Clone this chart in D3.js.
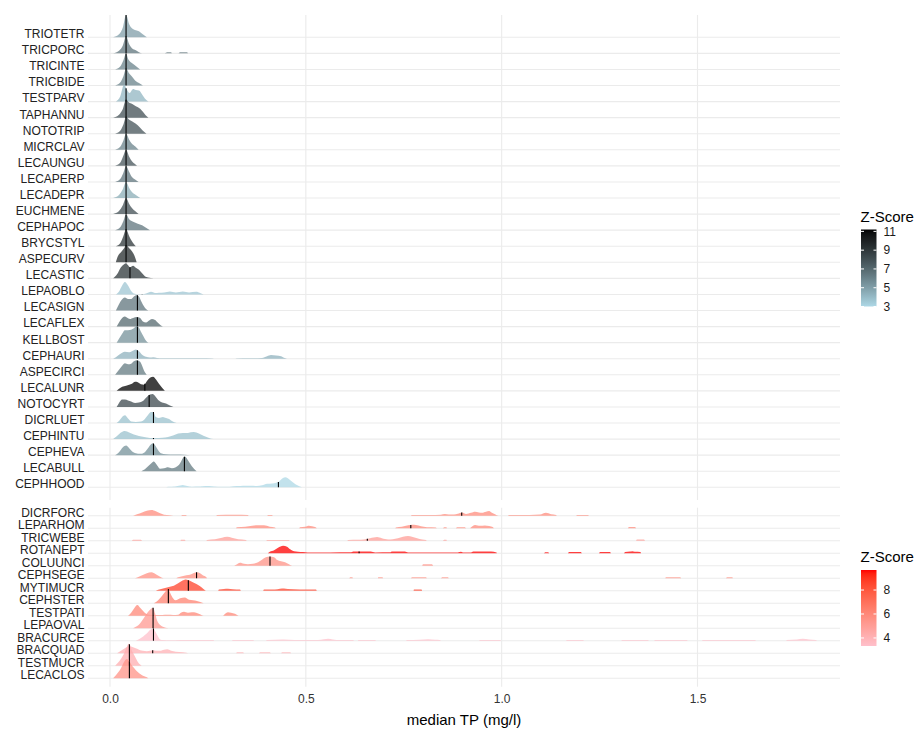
<!DOCTYPE html>
<html>
<head>
<meta charset="utf-8">
<script src="https://cdn.jsdelivr.net/npm/d3@7"></script>
<style>
  body { margin: 0; background: #fff; }
  text { font-family: "Liberation Sans", Arial, sans-serif; }
</style>
</head>
<body>
<svg id="chart" width="917" height="729"></svg>
<script>
// ---------- data ----------
const xTicks = [0, 0.5, 1.0, 1.5];
const topZBreaks = [3, 5, 7, 9, 11];
const bottomZBreaks = [4, 6, 8];

// upper group of taxa (top row first)
const topSpecies = ["TRIOTETR","TRICPORC","TRICINTE","TRICBIDE","TESTPARV","TAPHANNU","NOTOTRIP","MICRCLAV",
  "LECAUNGU","LECAPERP","LECADEPR","EUCHMENE","CEPHAPOC","BRYCSTYL","ASPECURV","LECASTIC","LEPAOBLO",
  "LECASIGN","LECAFLEX","KELLBOST","CEPHAURI","ASPECIRCI","LECALUNR","NOTOCYRT","DICRLUET","CEPHINTU",
  "CEPHEVA","LECABULL","CEPHHOOD"];
const topZ = [5.0,6.5,6.0,6.0,4.2,8.0,7.8,6.0,7.8,6.5,4.5,8.0,6.5,9.0,9.5,9.0,3.6,6.5,7.0,5.5,4.3,6.3,11.2,8.2,3.8,3.8,5.5,6.3,3.0];
const topMedian = [0.041,0.041,0.041,0.041,0.041,0.041,0.041,0.041,0.041,0.041,0.041,0.041,0.041,0.041,0.041,
  0.051,0.082,0.070,0.070,0.070,0.070,0.070,0.089,0.100,0.111,0.111,0.111,0.190,0.430];
// density profiles: [median TP, relative density]
const topDensity = [
  [[.008,0],[.023,3],[.033,10],[.041,22.3],[.049,13],[.056,9],[.066,7],[.074,6],[.082,3.5],[.094,0]],
  [[.008,0],[.023,2.5],[.033,8],[.041,17],[.049,9],[.056,5],[.066,3],[.082,0],[.140,0],[.146,1],[.156,1],[.158,0],[.174,0],[.179,1.2],[.197,1.2],[.199,0]],
  [[.013,0],[.026,3],[.034,9],[.041,16],[.047,10],[.054,7],[.061,5],[.069,2.5],[.077,0]],
  [[.013,0],[.026,3],[.034,9],[.041,17],[.049,12],[.056,9],[.064,5],[.074,2.5],[.084,0]],
  [[.015,0],[.026,5],[.036,17],[.043,12],[.050,8.5],[.059,12.5],[.066,11.5],[.074,11],[.082,7],[.089,3],[.098,0]],
  [[.008,0],[.023,3],[.033,9],[.041,18],[.049,15],[.056,14],[.066,11.5],[.077,9],[.084,6],[.091,2.5],[.098,0]],
  [[.013,0],[.026,3],[.034,9],[.041,17],[.049,14],[.056,12.5],[.066,10],[.077,6],[.084,3],[.093,0]],
  [[.013,0],[.026,3],[.034,9],[.041,16],[.049,10],[.056,6],[.064,3.5],[.073,0]],
  [[.013,0],[.026,3],[.034,10],[.041,16],[.049,9],[.056,4.5],[.063,2],[.069,0]],
  [[.013,0],[.026,3],[.034,9],[.041,16],[.049,10],[.056,5],[.064,2.5],[.073,0]],
  [[.008,0],[.023,3],[.033,9],[.041,16],[.049,10],[.056,6],[.066,3],[.077,0]],
  [[.008,0],[.023,3],[.033,9],[.041,16],[.049,10],[.056,6],[.064,3],[.073,0]],
  [[.013,0],[.026,3],[.034,9],[.041,16],[.049,11],[.059,8.5],[.071,6.5],[.082,5],[.092,2.5],[.102,0]],
  [[.015,0],[.026,3],[.034,10],[.041,17],[.049,10],[.056,5],[.066,0]],
  [[.015,0],[.020,6],[.028,10],[.036,14],[.041,17],[.049,14],[.056,11],[.063,6],[.068,0]],
  [[.008,0],[.018,4],[.028,11],[.036,14],[.041,15],[.046,13],[.051,11],[.059,12.5],[.066,10.5],[.074,8.5],[.082,5],[.089,2],[.097,0.8],[.112,0]],
  [[.015,0],[.023,3],[.031,9],[.038,12.5],[.046,9],[.054,3.5],[.061,1],[.071,0.3],[.082,0.3],[.092,1],[.105,2.7],[.115,1.5],[.125,1.7],[.138,2],[.153,3],[.168,2],[.186,3],[.202,2],[.220,2.7],[.230,1.5],[.239,0]],
  [[.015,0],[.020,4],[.026,8.5],[.033,12],[.038,13],[.046,11.5],[.054,11.5],[.061,14],[.069,15.5],[.074,14],[.080,9],[.087,4],[.092,1.5],[.098,0]],
  [[.017,0],[.023,4],[.031,8.5],[.037,10],[.043,9],[.051,7.5],[.059,8.5],[.069,9.5],[.077,8.5],[.084,5],[.092,4],[.100,6],[.107,7.5],[.115,6.5],[.123,3.5],[.130,1],[.135,0]],
  [[.017,0],[.023,4],[.031,9],[.038,12.5],[.046,12.5],[.054,13],[.061,14.5],[.068,16.3],[.074,15],[.079,11],[.086,6],[.092,2],[.098,0]],
  [[.008,0],[.015,1.5],[.023,4],[.031,6],[.038,7],[.049,6.5],[.056,7.5],[.066,9.3],[.074,7.5],[.082,4],[.092,2],[.102,1.2],[.110,1.5],[.120,0.8],[.135,0.5],[.179,0.4],[.230,0.4],[.263,0.3],[.266,0],[.319,0],[.322,0.3],[.357,0.4],[.388,0.8],[.401,2.5],[.411,3.7],[.424,3.2],[.437,2.5],[.444,1],[.452,0]],
  [[.013,0],[.019,3],[.026,6.5],[.033,10],[.038,11.5],[.046,10.5],[.054,11],[.061,13.5],[.069,14.5],[.077,13],[.082,9],[.087,4],[.094,0]],
  [[.017,0],[.023,2],[.031,4],[.041,5],[.049,6],[.056,7],[.064,9],[.071,8.5],[.079,6.5],[.087,6],[.094,9.5],[.102,13],[.110,14],[.117,11.5],[.125,7],[.133,3],[.140,0]],
  [[.017,0],[.023,4],[.031,7.5],[.038,7.5],[.046,6.5],[.054,5.5],[.064,4],[.074,4.5],[.084,6],[.094,10],[.102,12.5],[.109,13],[.115,11],[.123,7],[.133,4.5],[.143,3.5],[.153,1.5],[.162,0]],
  [[.017,0],[.023,2],[.031,6],[.038,7.7],[.046,4.5],[.054,1.5],[.066,1],[.079,1.5],[.089,4],[.097,8],[.105,11],[.111,11],[.117,6],[.125,5],[.135,6],[.143,5],[.151,4],[.158,2],[.170,0]],
  [[.008,0],[.018,3],[.028,6.5],[.038,8],[.049,6.5],[.061,4.5],[.074,3],[.087,2],[.102,1.2],[.117,1],[.133,1.3],[.148,2],[.161,3.5],[.174,5.5],[.186,6],[.199,6.2],[.214,7],[.227,5.5],[.240,3],[.253,1.2],[.264,0]],
  [[.013,0],[.023,3],[.033,8],[.041,9.7],[.049,7],[.056,4],[.066,2],[.077,1.3],[.087,2.5],[.097,7],[.105,11],[.110,12],[.115,10],[.123,5],[.130,2],[.143,1],[.166,0.7],[.191,0.4],[.204,0]],
  [[.080,0],[.089,2],[.100,6],[.107,8.5],[.112,9.7],[.120,6],[.128,2.5],[.138,3],[.148,4],[.158,3],[.168,4],[.179,8],[.186,13],[.191,14.7],[.199,11],[.209,5],[.221,0]],
  [[.144,0],[.148,0.5],[.166,0.8],[.179,1.8],[.186,2.3],[.197,1.2],[.209,0.6],[.230,0.7],[.243,1.2],[.253,1.3],[.266,0.8],[.286,0.5],[.306,0.6],[.324,1.2],[.340,1.6],[.357,1.5],[.375,1.3],[.388,2],[.401,3.5],[.414,3.8],[.424,4.5],[.431,5.5],[.439,8.5],[.447,10],[.454,9],[.462,6.5],[.470,4],[.477,2.2],[.490,0]]
];

// lower group of taxa (top row first)
const bottomSpecies = ["DICRFORC","LEPARHOM","TRICWEBE","ROTANEPT","COLUUNCI","CEPHSEGE","MYTIMUCR",
  "CEPHSTER","TESTPATI","LEPAOVAL","BRACURCE","BRACQUAD","TESTMUCR","LECACLOS"];
const bottomZ = [5.8,5.8,5.0,9.67,5.5,5.6,8.6,6.2,6.0,5.2,3.33,4.0,4.2,5.5];
const bottomMedian = [0.898,0.768,0.657,0.636,0.4085,0.221,0.200,0.149,0.111,0.110,0.111,0.109,0.0495,0.0495];
const bottomDensity = [
  [[.059,0],[.069,1.5],[.082,3.3],[.094,5],[.106,5.7],[.117,4.5],[.128,2.5],[.138,1],[.153,0.5],[.162,0],[.181,0],[.184,0.8],[.194,0.8],[.197,0],[.271,0],[.273,0.8],[.319,0.9],[.352,0.8],[.355,0],[.401,0],[.403,0.8],[.414,0.8],[.416,0],[.768,0],[.771,0.7],[.817,0.8],[.845,1],[.855,1.7],[.865,1.2],[.878,1.3],[.888,2],[.899,3.3],[.909,1.8],[.922,3],[.932,4],[.942,3.2],[.950,3],[.960,4],[.968,4.7],[.975,3],[.983,1.5],[.992,0],[1.016,0],[1.019,0.7],[1.072,0.7],[1.098,1.2],[1.113,3],[1.126,1.5],[1.139,0.7],[1.141,0],[1.190,0],[1.192,0.8],[1.220,0.8],[1.223,0]],
  [[.322,0],[.324,1],[.345,1.5],[.363,2.5],[.378,3],[.393,3],[.408,1.5],[.421,0.8],[.424,0],[.483,0],[.485,1],[.498,1.5],[.508,2.5],[.516,2],[.526,0.8],[.528,0],[.728,0],[.730,0.8],[.745,1.5],[.761,3],[.771,3.4],[.781,3.2],[.794,2],[.809,1],[.832,0.8],[.835,0],[.850,0],[.853,1],[.859,1],[.860,0],[.883,0],[.886,1],[.906,1],[.909,0],[.919,0],[.922,1],[.932,3.3],[.945,2.5],[.957,2.8],[.968,2.2],[.978,1],[.980,0],[1.322,0],[1.325,1.2],[1.340,1.2],[1.343,0]],
  [[.056,0],[.059,1],[.079,1],[.082,0],[.180,0],[.181,1],[.191,1],[.193,0],[.245,0],[.248,0.8],[.268,1.5],[.286,3],[.299,4],[.311,3],[.327,1.5],[.347,0.8],[.350,0],[.398,0],[.401,0.8],[.457,0.8],[.460,0],[.605,0],[.608,0.8],[.633,1],[.648,1.3],[.664,2.5],[.682,3.7],[.694,2.5],[.710,1.3],[.722,1.5],[.735,2.5],[.748,4],[.761,4.7],[.771,4],[.784,2.5],[.797,1.2],[.807,0.8],[.809,0],[.850,0],[.853,1],[.859,1],[.860,0],[1.343,0],[1.345,1.3],[1.363,1.3],[1.366,0]],
  [[.403,0],[.408,1.5],[.419,3],[.429,5.5],[.442,7.5],[.452,6.5],[.460,4],[.470,2],[.480,1.5],[.493,1.2],[.505,0.8],[.562,0.8],[.613,0.9],[.623,1.7],[.666,1.7],[.677,0.8],[.715,0.9],[.720,1.7],[.753,1.7],[.761,0.8],[.888,0.8],[.896,1.5],[.901,0.8],[.922,0.8],[.927,1.7],[.973,1.7],[.987,0.8],[.988,0],[1.108,0],[1.111,1],[1.119,1],[1.121,0],[1.169,0],[1.172,1.2],[1.202,1.2],[1.205,0],[1.248,0],[1.251,1.3],[1.277,1.3],[1.279,0],[1.312,0],[1.315,1.3],[1.328,1.6],[1.333,2],[1.340,1.4],[1.354,1.3],[1.356,0]],
  [[.317,0],[.322,1],[.332,3],[.342,2],[.352,1.5],[.365,2],[.378,3.5],[.388,6],[.398,8.5],[.408,9.2],[.419,8.5],[.426,6],[.437,4.5],[.447,3.5],[.457,1.5],[.465,0],[.797,0],[.799,1.5],[.822,1.5],[.825,0]],
  [[.064,0],[.071,1],[.082,3],[.094,5],[.106,5.9],[.117,4],[.128,1.5],[.137,0],[.168,0],[.174,1],[.184,2],[.195,3],[.204,3.5],[.214,5.3],[.222,6],[.230,5],[.237,3],[.246,1],[.248,0],[.611,0],[.613,1],[.619,1],[.620,0],[.684,0],[.685,1],[.696,1],[.697,0],[.768,0],[.771,1],[.807,1],[.809,0],[.845,0],[.848,1],[.863,1],[.865,0],[1.418,0],[1.419,1],[1.456,1],[1.458,0],[1.573,0],[1.575,1],[1.589,1],[1.590,0]],
  [[.117,0],[.123,1],[.133,2],[.143,3],[.153,4],[.163,5],[.174,7.5],[.184,10],[.194,11.3],[.204,10],[.214,8],[.225,5.7],[.235,3],[.246,0],[.276,0],[.278,1.3],[.291,1.8],[.301,2],[.314,1.5],[.332,1.2],[.334,0],[.391,0],[.393,1.2],[.421,1.3],[.434,2],[.444,2.3],[.454,1.6],[.485,1.2],[.526,1.2],[.528,0],[.775,0],[.776,1.3],[.795,1.3],[.797,0]],
  [[.112,0],[.123,3],[.130,6],[.138,10],[.144,13],[.149,14.3],[.154,10],[.161,5],[.167,3],[.174,4],[.179,5],[.191,5.7],[.202,3.5],[.212,3],[.222,2.3],[.239,0]],
  [[.046,0],[.054,3],[.061,7],[.070,10.7],[.077,8],[.084,5],[.092,2],[.100,1],[.115,0.8],[.133,0.8],[.148,1],[.161,0.8],[.174,1],[.181,3],[.189,4],[.199,3],[.209,3.5],[.220,3],[.230,1.5],[.239,0],[.288,0],[.294,2],[.301,3.5],[.309,3],[.319,2],[.328,0]],
  [[.059,0],[.066,1.5],[.073,3.3],[.079,6],[.086,10],[.092,13.5],[.098,16.7],[.105,19.5],[.110,20.5],[.115,15],[.120,8],[.128,3.3],[.135,1.5],[.149,0]],
  [[.066,0],[.074,1.5],[.082,3.5],[.089,5.7],[.097,8.5],[.102,10.7],[.111,12.3],[.116,9],[.123,4],[.128,1.3],[.135,0.7],[.153,0.5],[.179,0.8],[.204,0.8],[.220,0.6],[.264,0.6],[.266,0],[.311,0],[.314,0.7],[.365,0.7],[.368,0],[.398,0],[.401,0.7],[.442,1.3],[.472,0.7],[.531,0.8],[.546,1.5],[.557,2],[.569,1.3],[.587,0.7],[.620,0.7],[.623,0],[.633,0],[.634,0.7],[.677,0.7],[.679,0],[.756,0],[.758,0.7],[.791,1],[.812,1.5],[.830,1],[.842,0.7],[.845,0],[.942,0],[.945,0.7],[.996,0.7],[.998,0],[1.164,0],[1.167,0.7],[1.208,0.7],[1.210,0],[1.305,0],[1.307,0.8],[1.374,0.8],[1.376,0],[1.389,0],[1.391,0.8],[1.473,0.8],[1.476,0],[1.511,0],[1.514,0.7],[1.647,0.7],[1.649,0],[1.726,0],[1.728,0.8],[1.754,1.2],[1.769,2],[1.785,1.3],[1.802,0.8],[1.805,0]],
  [[.018,0],[.028,2.5],[.038,5],[.049,7],[.059,6],[.069,4.5],[.077,3],[.084,2.5],[.094,2],[.102,2.5],[.110,3],[.117,2.5],[.128,2.5],[.138,3.5],[.146,4],[.156,2.5],[.168,1.5],[.186,1],[.204,0],[.322,0],[.324,1],[.340,1],[.342,0],[.380,0],[.383,1],[.408,1],[.411,0],[.437,0],[.439,1],[.460,1],[.462,0]],
  [[.013,0],[.019,2.5],[.026,5.7],[.032,9.5],[.038,14],[.043,19],[.048,22],[.051,21],[.055,15.7],[.060,12],[.064,9],[.072,3.3],[.077,1.2],[.081,0]],
  [[.008,0],[.015,3],[.021,6],[.028,10],[.034,15],[.043,19.3],[.048,18],[.055,13.3],[.062,10],[.068,7.3],[.081,3.3],[.094,1],[.098,0]]
];

// ---------- layout ----------
const svg = d3.select("#chart");
const plotLeft = 88, plotRight = 840;
const x = d3.scaleLinear().domain([0, 1.5]).range([110, 697.5]);
const gridColor = "#EBEBEB";
const labelColor = "#222222";

// density value at a given position (linear between profile points)
function densityAt(pts, v) {
  for (let i = 1; i < pts.length; i++) {
    if (pts[i][0] >= v) {
      const [x0, d0] = pts[i - 1], [x1, d1] = pts[i];
      const t = x1 === x0 ? 0 : (v - x0) / (x1 - x0);
      return d0 + t * (d1 - d0);
    }
  }
  return 0;
}

function ridgePanel(cfg) {
  const g = svg.append("g");
  const y = d3.scalePoint().domain(cfg.species).range(cfg.rows);
  const step = y.step();
  const dmax = d3.max(cfg.density, p => d3.max(p, d => d[1]));
  const h = d3.scaleLinear().domain([0, dmax]).range([0, cfg.ridgeScale * step]);
  const color = d3.scaleLinear().domain(d3.extent(cfg.z)).range(cfg.colors).interpolate(d3.interpolateLab);

  // grid
  g.append("g").selectAll("line").data(xTicks).join("line")
    .attr("x1", d => x(d)).attr("x2", d => x(d))
    .attr("y1", cfg.top).attr("y2", cfg.bottom)
    .attr("stroke", gridColor).attr("stroke-width", 1.1);
  g.append("g").selectAll("line").data(cfg.species).join("line")
    .attr("x1", plotLeft).attr("x2", plotRight)
    .attr("y1", d => y(d)).attr("y2", d => y(d))
    .attr("stroke", gridColor).attr("stroke-width", 1.1);

  // ridges, upper rows first so lower rows sit in front
  const rows = cfg.species.map((s, i) => ({ s, z: cfg.z[i], m: cfg.median[i], pts: cfg.density[i] }));
  const ridge = g.append("g").selectAll("g").data(rows).join("g");
  ridge.append("path")
    .attr("d", d => d3.area()
      .x(p => x(p[0]))
      .y0(y(d.s))
      .y1(p => y(d.s) - h(p[1]))
      .curve(d3.curveMonotoneX)(d.pts))
    .attr("fill", d => color(d.z))
    .attr("fill-opacity", 0.75);
  ridge.append("line")
    .attr("x1", d => x(d.m)).attr("x2", d => x(d.m))
    .attr("y1", d => y(d.s))
    .attr("y2", d => y(d.s) - h(densityAt(d.pts, d.m)))
    .attr("stroke", "#000").attr("stroke-width", 1.1);

  // category labels
  const ax = g.append("g").attr("transform", `translate(${plotLeft},0)`)
    .call(d3.axisLeft(y).tickSize(0).tickPadding(3.5));
  ax.select(".domain").remove();
  ax.selectAll("text").attr("dy", "0.03em")
    .attr("font-size", 12).attr("fill", labelColor)
    .style("font-family", '"Liberation Sans", Arial, sans-serif');

  // colour bar legend
  const lg = svg.append("g");
  const [zmin, zmax] = d3.extent(cfg.z);
  const ly = d3.scaleLinear().domain([zmin, zmax]).range([cfg.barBottom, cfg.barTop]);
  const gradId = cfg.id + "-grad";
  const grad = svg.append("defs").append("linearGradient").attr("id", gradId)
    .attr("x1", 0).attr("y1", 1).attr("x2", 0).attr("y2", 0);
  d3.range(0, 1.0001, 0.05).forEach(t => {
    grad.append("stop").attr("offset", t).attr("stop-color", color(zmin + t * (zmax - zmin)));
  });
  const barX = 861, barW = 15.5;
  lg.append("text").attr("x", 860.5).attr("y", cfg.titleY)
    .attr("font-size", 15).attr("fill", "#000").text("Z-Score");
  lg.append("rect").attr("x", barX).attr("y", cfg.barTop)
    .attr("width", barW).attr("height", cfg.barBottom - cfg.barTop)
    .attr("fill", `url(#${gradId})`);
  const tk = lg.append("g").selectAll("g").data(cfg.breaks).join("g");
  tk.append("line").attr("x1", barX).attr("x2", barX + 3)
    .attr("y1", d => ly(d)).attr("y2", d => ly(d)).attr("stroke", "#fff").attr("stroke-width", 1);
  tk.append("line").attr("x1", barX + barW - 3).attr("x2", barX + barW)
    .attr("y1", d => ly(d)).attr("y2", d => ly(d)).attr("stroke", "#fff").attr("stroke-width", 1);
  tk.append("text").attr("x", 883.5).attr("y", d => ly(d)).attr("dy", "0.36em")
    .attr("font-size", 12).attr("fill", "#1a1a1a").text(d => d);
}

ridgePanel({
  id: "upper", species: topSpecies, z: topZ, median: topMedian, density: topDensity,
  rows: [37.3, 487.3], top: 15, bottom: 500, ridgeScale: 1.39,
  colors: ["#ADD8E6", "#000000"],
  titleY: 221.5, barTop: 229.5, barBottom: 306.5, breaks: topZBreaks
});
ridgePanel({
  id: "lower", species: bottomSpecies, z: bottomZ, median: bottomMedian, density: bottomDensity,
  rows: [515.7, 678.2], top: 507.7, bottom: 686.7, ridgeScale: 1.76,
  colors: ["#FFC0CB", "#FF0000"],
  titleY: 561.5, barTop: 570, barBottom: 646, breaks: bottomZBreaks
});

// x axis
const xa = svg.append("g").attr("transform", "translate(0,686.7)")
  .call(d3.axisBottom(x).tickValues(xTicks).tickFormat(d3.format(".1f")).tickSize(0).tickPadding(8.1));
xa.select(".domain").remove();
xa.selectAll("text").attr("font-size", 12).attr("fill", "#333333")
  .style("font-family", '"Liberation Sans", Arial, sans-serif');

svg.append("text").attr("x", 464).attr("y", 724.5).attr("text-anchor", "middle")
  .attr("font-size", 15).attr("fill", "#000").text("median TP (mg/l)");
</script>
</body>
</html>
